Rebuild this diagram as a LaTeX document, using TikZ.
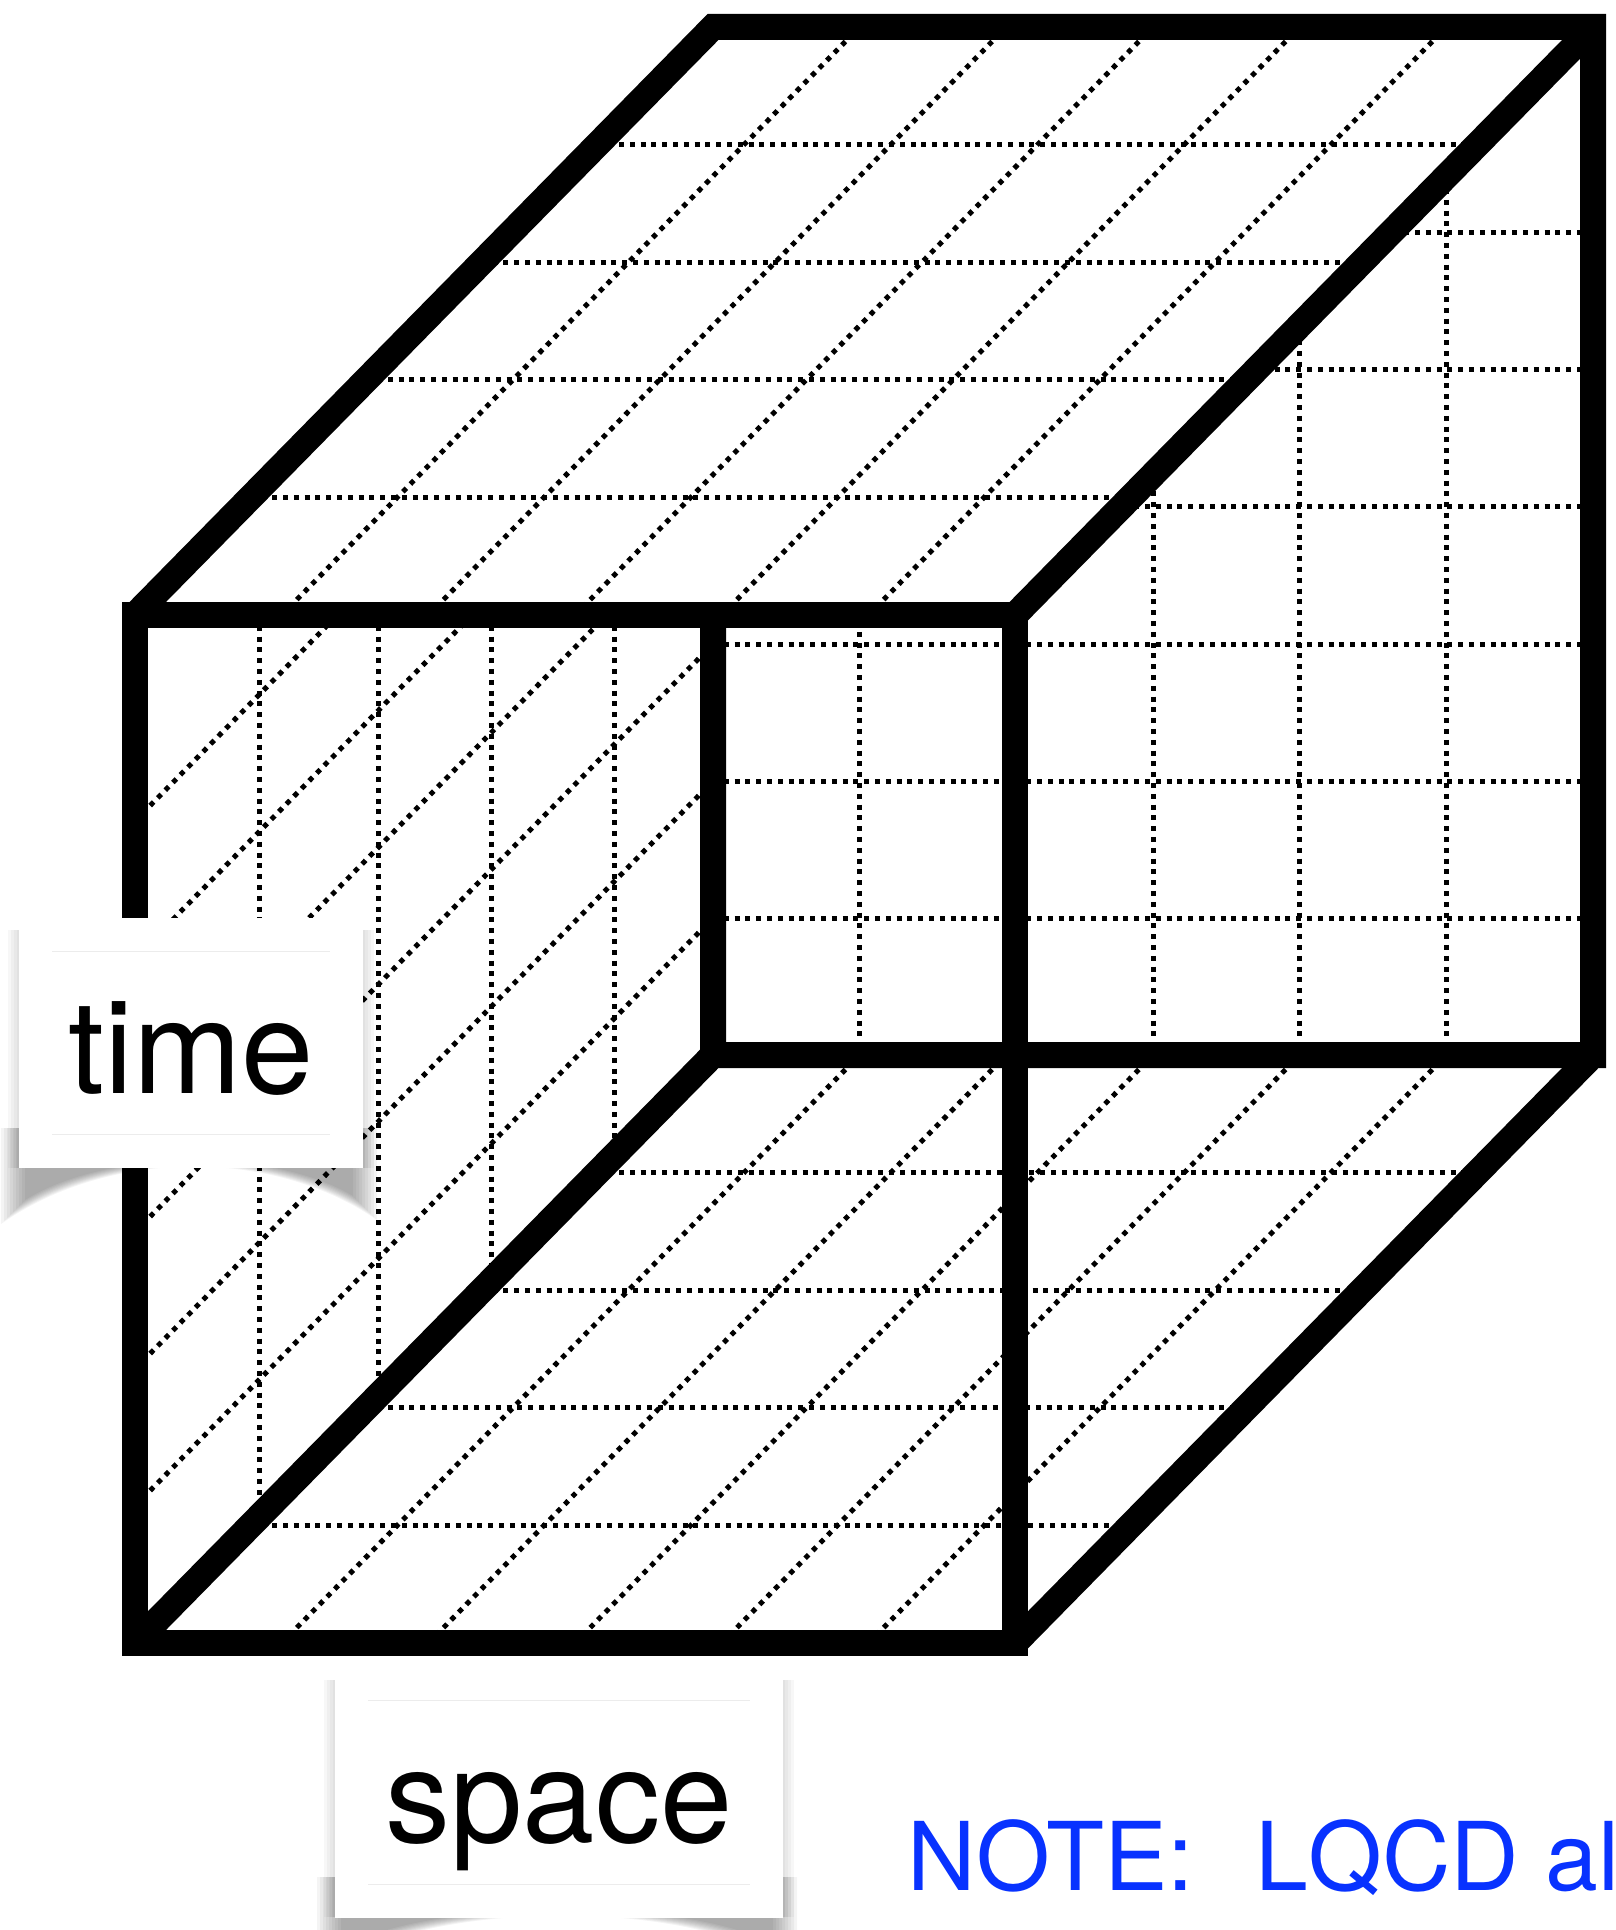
\documentclass[tikz,border=0pt]{standalone}
\usepackage{fontspec}
\setmainfont{TeX Gyre Heros}
\definecolor{note}{RGB}{8,50,255}
\definecolor{inset}{RGB}{236,236,236}

\begin{document}
\begin{tikzpicture}[x=0.1mm,y=-0.1mm,
  edge/.style={line width=2.6mm,line join=miter},
  lattice/.style={line width=0.5mm,dash pattern=on 0.5mm off 0.58mm},
  labelbox/.style={fill=white,minimum width=#1,minimum height=25mm,inner sep=0pt},
  labeltext/.style={font=\fontsize{37}{40}\selectfont,inner sep=0pt,anchor=base},
  insetline/.style={inset,line width=0.1mm}]
  \useasboundingbox (0,0) rectangle (1615,1930);
  % back wall
  \foreach \i in {1,...,5} \draw[lattice] ({713+146.7*\i},27) -- ({713+146.7*\i},1055);
  \foreach \k in {1,...,6} \draw[lattice] (713,{1055-137*\k}) -- (1593,{1055-137*\k});
  % left wall
  \foreach \x in {259,378,491,614} \draw[lattice] (\x,615) -- (\x,{1643-(\x-135)*1.0173});
  \foreach \k in {1,...,6} \draw[lattice] (135,{1643-137*\k}) -- (713,{1055-137*\k});
  % top
  \fill[white] (135,615) -- (713,27) -- (1593,27) -- (1015,615) -- cycle;
  \foreach \k in {1,...,4} \draw[lattice] ({135+115.6*\k},{615-117.6*\k}) -- ++(880,0);
  \foreach \i in {1,...,5} \draw[lattice] ({135+146.7*\i},615) -- ++(578,-588);
  % floor
  \foreach \k in {1,...,4} \draw[lattice] ({713-115.6*\k},{1055+117.6*\k}) -- ++(880,0);
  \foreach \i in {1,...,5} \draw[lattice] ({135+146.7*\i},1643) -- ++(578,-588);
  % edges
  \draw[edge] (135,615) -- (713,27) -- (1593,27) -- (1593,1055) -- (713,1055) -- (713,615);
  \draw[edge] (135,615) rectangle (1015,1643);
  \foreach \cx/\cy in {1015/615,135/1643,1015/1643} \draw[edge] (\cx,\cy) -- ++(578,-588);
  % labels
  \foreach \lx/\rx/\ty/\by in {19/363/918/1168,335/783/1668/1917} {
    \foreach \d in {0,3,...,24}
      \fill[black,opacity=0.045] (\lx-18+\d,\by-40) -- (\lx-18+\d,\by+56-\d)
        .. controls (\lx+90,\by-20) and (\rx-90,\by-20) .. (\rx+14-\d,\by+52-\d)
        -- (\rx+14-\d,\by-40) -- cycle;
    \foreach \d in {2,5,8,11}
      \fill[black,opacity=0.03] (\lx-\d,\ty+12) rectangle (\rx+\d,\by);
  }
  \node[labelbox=34.4mm] (timebox) at (191,1043) {};
  \node[labelbox=44.8mm] (spacebox) at (559,1792.5) {};
  \foreach \b in {timebox,spacebox} {
    \draw[insetline] ([shift={(3.4mm,-3.4mm)}]\b.north west) -- ([shift={(-3.4mm,-3.4mm)}]\b.north east);
    \draw[insetline] ([shift={(3.4mm,3.4mm)}]\b.south west) -- ([shift={(-3.4mm,3.4mm)}]\b.south east);
  }
  \node[labeltext] (timetext) at ([yshift=-5mm]timebox.center) {time};
  \node[labeltext] (spacetext) at ([yshift=-5mm]spacebox.center) {space};
  \node[font=\fontsize{27}{30}\selectfont,text=note,inner sep=0pt,anchor=base west] (note)
    at (907,1890) {NOTE:\hspace{0.65em}LQCD al};
\end{tikzpicture}
\end{document}
